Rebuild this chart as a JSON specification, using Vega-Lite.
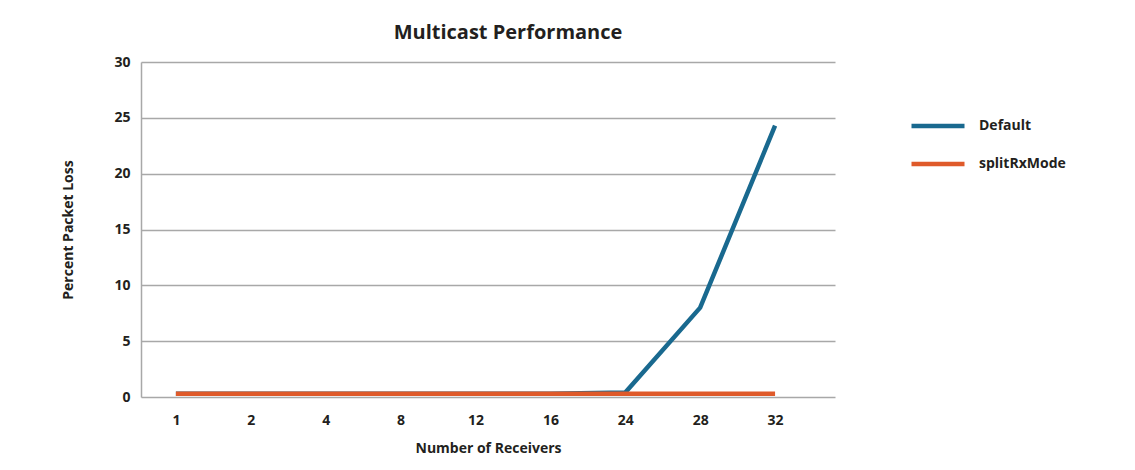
{
  "$schema": "https://vega.github.io/schema/vega-lite/v6.json",
  "autosize": {"type": "none"},
  "padding": {"left": 141, "top": 62, "right": 300, "bottom": 73},
  "width": 694,
  "height": 335,
  "background": "white",
  "title": {
    "text": "Multicast Performance",
    "font": "Open Sans",
    "fontSize": 20,
    "fontWeight": "bold",
    "color": "#231f20",
    "anchor": "middle",
    "dx": 20,
    "offset": 12
  },
  "data": {
    "values": [
      {"receivers": "1", "series": "Default", "loss": 0.3},
      {"receivers": "2", "series": "Default", "loss": 0.3},
      {"receivers": "4", "series": "Default", "loss": 0.3},
      {"receivers": "8", "series": "Default", "loss": 0.3},
      {"receivers": "12", "series": "Default", "loss": 0.3},
      {"receivers": "16", "series": "Default", "loss": 0.3},
      {"receivers": "24", "series": "Default", "loss": 0.4},
      {"receivers": "28", "series": "Default", "loss": 8.0},
      {"receivers": "32", "series": "Default", "loss": 24.3},
      {"receivers": "1", "series": "splitRxMode", "loss": 0.3},
      {"receivers": "2", "series": "splitRxMode", "loss": 0.3},
      {"receivers": "4", "series": "splitRxMode", "loss": 0.3},
      {"receivers": "8", "series": "splitRxMode", "loss": 0.3},
      {"receivers": "12", "series": "splitRxMode", "loss": 0.3},
      {"receivers": "16", "series": "splitRxMode", "loss": 0.3},
      {"receivers": "24", "series": "splitRxMode", "loss": 0.3},
      {"receivers": "28", "series": "splitRxMode", "loss": 0.3},
      {"receivers": "32", "series": "splitRxMode", "loss": 0.3}
    ]
  },
  "mark": {"type": "line", "strokeWidth": 4.5, "strokeCap": "butt"},
  "encoding": {
    "x": {
      "field": "receivers",
      "type": "ordinal",
      "sort": ["1", "2", "4", "8", "12", "16", "24", "28", "32"],
      "scale": {"type": "point", "padding": 0.633, "align": 0.368},
      "axis": {
        "title": "Number of Receivers",
        "labelAngle": 0,
        "ticks": false,
        "domain": false,
        "labelPadding": 16,
        "titlePadding": 14
      }
    },
    "y": {
      "field": "loss",
      "type": "quantitative",
      "scale": {"domain": [0, 30]},
      "axis": {
        "title": "Percent Packet Loss",
        "values": [0, 5, 10, 15, 20, 25, 30],
        "ticks": false,
        "domain": true,
        "labelPadding": 11,
        "titlePadding": 38
      }
    },
    "color": {
      "field": "series",
      "type": "nominal",
      "scale": {"domain": ["Default", "splitRxMode"], "range": ["#19698f", "#df5a2a"]},
      "legend": {
        "title": null,
        "orient": "none",
        "legendX": 768,
        "legendY": 35,
        "symbolType": "stroke",
        "symbolSize": 2809,
        "symbolStrokeWidth": 4.5,
        "labelOffset": 12,
        "rowPadding": -21
      }
    },
    "order": {"field": "series", "sort": "ascending"}
  },
  "config": {
    "font": "Open Sans",
    "view": {"stroke": null},
    "axis": {
      "labelFont": "Open Sans",
      "labelFontSize": 14,
      "labelFontWeight": "bold",
      "labelColor": "#231f20",
      "titleFont": "Open Sans",
      "titleFontSize": 14,
      "titleFontWeight": "bold",
      "titleColor": "#231f20",
      "gridColor": "#a8a8a8",
      "gridWidth": 1.5,
      "domainColor": "#a8a8a8",
      "domainWidth": 1.5
    },
    "axisX": {"grid": false},
    "legend": {
      "labelFont": "Open Sans",
      "labelFontSize": 14,
      "labelFontWeight": "bold",
      "labelColor": "#231f20"
    }
  }
}
